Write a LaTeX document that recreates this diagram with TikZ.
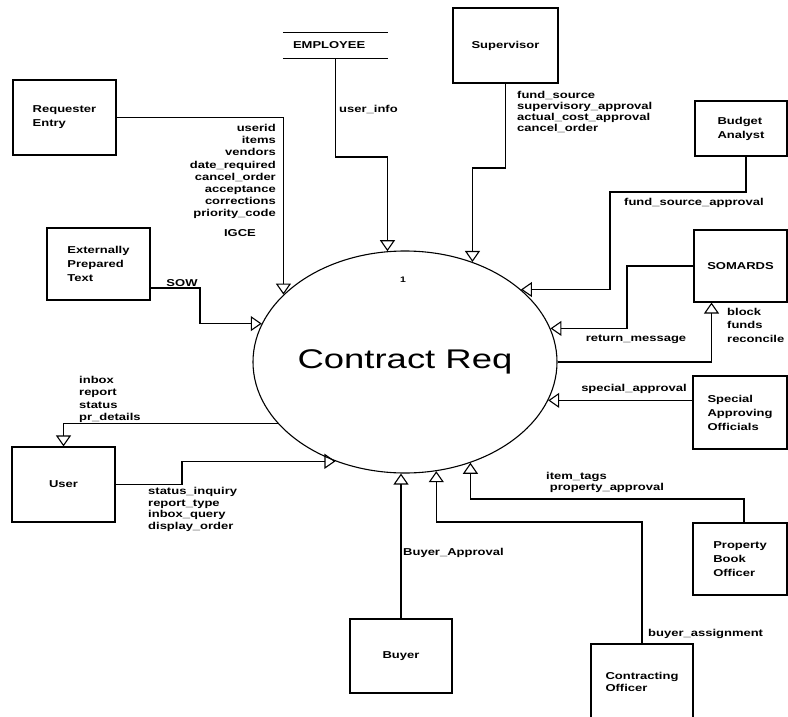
\documentclass[tikz,border=0pt]{standalone}
\usepackage{fontspec}
\usepackage{tikz}
\usetikzlibrary{shapes.geometric}
\usetikzlibrary{arrows.meta}
\newfontfamily\lblfont[FakeStretch=1.3]{Liberation Sans Bold}
\newfontfamily\bigfont[FakeStretch=1.35]{Liberation Sans}

\tikzset{
  box/.style={draw, line width=1.1pt, font=\fontsize{10}{14}\selectfont\lblfont, align=left, inner sep=0pt},
  flow/.style={line width=1.1pt, -{Triangle[open,length=11pt,width=15pt]}},
  lbl/.style={font=\fontsize{10}{12}\selectfont\lblfont, inner sep=0pt, align=left}
}

\begin{document}
\begin{tikzpicture}[x=1pt,y=-1pt]
                    \useasboundingbox (0,0) rectangle (788,717);

                    \node[draw, ellipse, line width=1.1pt, minimum width=304pt, minimum height=222pt, inner sep=0pt,
                          font=\fontsize{27}{30}\selectfont\bigfont] (cr) at (405,362) {Contract Req};
                    \node[lbl, font=\fontsize{8}{9}\selectfont\lblfont] (crnum) at (403,280) {1};

                    \node[box, minimum width=103pt, minimum height=75pt] (req) at (64.5,117.5) {Requester\\Entry};
                    \node[box, minimum width=103pt, minimum height=72pt] (ext) at (98.5,264) {Externally\\Prepared\\Text};
                    \node[lbl, minimum width=105pt, minimum height=25pt, text width=85pt, inner xsep=10pt] (emp) at (335.5,45.5) {EMPLOYEE};
                    \draw[line width=1.1pt] (emp.north west) -- (emp.north east);
                    \draw[line width=1.1pt] (emp.south west) -- (emp.south east);
                    \node[box, minimum width=105pt, minimum height=75pt] (sup) at (505.5,45.5) {Supervisor};
                    \node[box, minimum width=92pt, minimum height=55pt] (bud) at (741,128.5) {Budget\\Analyst};
                    \node[box, minimum width=93pt, minimum height=72pt] (som) at (740.5,266) {SOMARDS};
                    \node[box, minimum width=94pt, minimum height=73pt] (spec) at (740,412.5) {Special\\Approving\\Officials};
                    \node[box, minimum width=94pt, minimum height=72pt] (pbo) at (740,559) {Property\\Book\\Officer};
                    \node[box, minimum width=102pt, minimum height=76pt, font=\fontsize{10}{12}\selectfont\lblfont] (co) at (642,682) {Contracting\\Officer};
                    \node[box, minimum width=102pt, minimum height=74pt] (buy) at (401,656) {Buyer};
                    \node[box, minimum width=103pt, minimum height=75pt] (usr) at (63.5,484.5) {User};

                    \draw[flow] (req.east) -| (cr.151);
                    \draw[flow] (ext.east |- 0,288) -- (200,288) |- (cr.165);
                    \draw[flow] (emp.south) -- (emp.south |- 0,157) -| (cr.99);
                    \draw[flow] (sup.south) -- (sup.south |- 0,168) -| (cr.56);
                    \draw[flow] ([xshift=5pt]bud.south) |- (610,192) |- (cr.32);
                    \draw[flow] (som.west) -- (som.west -| 627,0) |- (cr.13);
                    \draw[flow] (cr.east) -| ([xshift=-29pt]som.south);
                    \draw[flow] (spec.west |- cr.-15) -- (cr.-15);
                    \draw[flow] ([xshift=4pt]pbo.north) |- (cr.-57 |- 0,499) -- (cr.-57);
                    \draw[flow] (co.north) |- (cr.-74 |- 0,522) -- (cr.-74);
                    \draw[flow] (buy.north) -- (buy.north |- cr.south);
                    \draw[flow] (usr.east) -- (usr.east -| 182,0) |- (cr.235);
                    \draw[flow] (cr.206) -| (usr.north);

                    \node[lbl, anchor=east, align=right, font=\fontsize{10}{12.1}\selectfont\lblfont] (reqdata) at (276,171.5)
                         {userid\\items\\vendors\\date\_required\\cancel\_order\\acceptance\\corrections\\priority\_code};
                    \node[lbl] (igce) at (240,233) {IGCE};
                    \node[lbl] (sow) at (182,283) {SOW};
                    \node[lbl, anchor=west] (empdata) at (339,109) {user\_info};
                    \node[lbl, anchor=west, font=\fontsize{10}{11}\selectfont\lblfont] (supdata) at (517,111.5)
                         {fund\_source\\supervisory\_approval\\actual\_cost\_approval\\cancel\_order};
                    \node[lbl, anchor=west] (buddata) at (624,203) {fund\_source\_approval};
                    \node[lbl] (somout) at (636,339) {return\_message};
                    \node[lbl, anchor=west, font=\fontsize{10}{13.5}\selectfont\lblfont] (somin) at (727,325) {block\\funds\\reconcile};
                    \node[lbl] (specdata) at (634,389) {special\_approval};
                    \node[lbl, anchor=west, font=\fontsize{10}{11}\selectfont\lblfont] (pbodata) at (546,482) {item\_tags\\\ property\_approval};
                    \node[lbl, anchor=west] (codata) at (648,634) {buyer\_assignment};
                    \node[lbl, anchor=west] (buydata) at (403,553) {Buyer\_Approval};
                    \node[lbl, anchor=west, font=\fontsize{10}{12.3}\selectfont\lblfont] (usrin) at (79,399.5) {inbox\\report\\status\\pr\_details};
                    \node[lbl, anchor=west, font=\fontsize{10}{11.7}\selectfont\lblfont] (usrout) at (148,509.5)
                         {status\_inquiry\\report\_type\\inbox\_query\\display\_order};
\end{tikzpicture}
\end{document}
